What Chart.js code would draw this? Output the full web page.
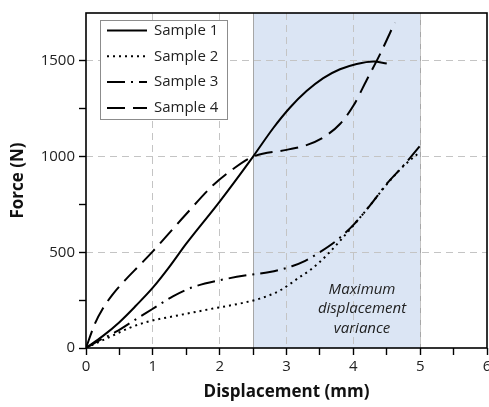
<!DOCTYPE html>
<html>
<head>
<meta charset="utf-8">
<script src="https://cdn.jsdelivr.net/npm/chart.js@4"></script>
<style>
	html, body { margin: 0; padding: 0; background: #fff; overflow: hidden; }
	#wrap { position: relative; width: 500px; height: 407px; }
</style>
</head>
<body>
<div id="wrap"><canvas id="chart"></canvas></div>
<script>
// values (displacement in mm, force in N)
const seriesNames = ['Sample 1', 'Sample 2', 'Sample 3', 'Sample 4'];

const s1x = [0, 0.25, 0.5, 0.75, 1, 1.25, 1.5, 2, 2.5, 2.8, 3.05, 3.3, 3.55, 3.8, 4.05, 4.3, 4.5];
const s1y = [0, 62, 135, 222, 315, 425, 545, 765, 1000, 1148, 1255, 1342, 1410, 1456, 1484, 1497, 1486];

const s2x = [0, 0.4, 0.65, 0.9, 1.4, 1.9, 2.3, 2.6, 2.9, 3.2, 3.35, 3.6, 4, 4.25, 4.5, 4.75, 5];
const s2y = [0, 65, 105, 135, 172, 206, 232, 258, 300, 371, 406, 484, 640, 745, 855, 950, 1025];

const s3x = [0, 0.2, 0.45, 0.7, 1, 1.3, 1.6, 2, 2.4, 2.75, 3.08, 3.28, 3.45, 3.75, 4.02, 4.25, 4.5, 4.75, 5];
const s3y = [0, 40, 85, 140, 205, 270, 318, 354, 380, 397, 427, 455, 490, 562, 650, 745, 858, 953, 1057];

const s4x = [0, 0.13, 0.25, 0.4, 0.6, 0.8, 1, 1.5, 1.9, 2.2, 2.5, 3, 3.3, 3.55, 3.8, 4, 4.2, 4.4, 4.62];
const s4y = [0, 125, 205, 280, 360, 432, 505, 700, 850, 935, 1000, 1035, 1060, 1100, 1170, 1265, 1400, 1535, 1700];

const xTicks = [0, 1, 2, 3, 4, 5, 6];
const yTicks = [0, 500, 1000, 1500];

const regionStart = 2.5;
const regionEnd = 5;
const regionText = ['Maximum', 'displacement', 'variance'];

const dashes = [[], [2, 4], [18, 6, 2, 6], [18, 8]];

function toPoints(xs, ys) {
	return xs.map((x, i) => ({x: x, y: ys[i]}));
}

const font = '"Open Sans", sans-serif';

const shadePlugin = {
	id: 'shade',
	beforeDraw(chart) {
		const {ctx, chartArea, scales} = chart;
		const x1 = scales.x.getPixelForValue(regionStart);
		const x2 = scales.x.getPixelForValue(regionEnd);
		ctx.save();
		ctx.fillStyle = '#dbe5f4';
		ctx.fillRect(x1, chartArea.top, x2 - x1, chartArea.bottom - chartArea.top);
		ctx.strokeStyle = '#a6a6a6';
		ctx.lineWidth = 1;
		ctx.beginPath();
		ctx.moveTo(Math.round(x1) + 0.5, chartArea.top);
		ctx.lineTo(Math.round(x1) + 0.5, chartArea.bottom);
		ctx.moveTo(Math.round(x2) + 0.5, chartArea.top);
		ctx.lineTo(Math.round(x2) + 0.5, chartArea.bottom);
		ctx.stroke();
		ctx.restore();
	},
	beforeDatasetsDraw(chart) {
		const {ctx, scales} = chart;
		ctx.save();
		ctx.fillStyle = '#222';
		ctx.font = 'italic 15px ' + font;
		ctx.textAlign = 'center';
		ctx.textBaseline = 'middle';
		const cx = scales.x.getPixelForValue(4.13);
		const cy = scales.y.getPixelForValue(205);
		regionText.forEach((line, i) => {
			ctx.fillText(line, cx, cy + (i - 1) * 19.5);
		});
		ctx.restore();
	},
	afterDatasetsDraw(chart) {
		const {ctx, chartArea} = chart;
		// legend box
		const bx = chartArea.left + 14;
		const by = chartArea.top + 7;
		ctx.save();
		ctx.fillStyle = '#fff';
		ctx.fillRect(bx, by, 127, 99);
		ctx.strokeStyle = '#8c8c8c';
		ctx.lineWidth = 1;
		ctx.strokeRect(Math.round(bx) + 0.5, Math.round(by) + 0.5, 127, 99);
		ctx.font = '15px ' + font;
		ctx.textBaseline = 'middle';
		ctx.fillStyle = '#222';
		chart.data.datasets.forEach((ds, i) => {
			const ly = by + 10.5 + i * 25.8;
			ctx.strokeStyle = '#000';
			ctx.lineWidth = 2;
			ctx.setLineDash(ds.borderDash);
			ctx.beginPath();
			ctx.moveTo(bx + 7, ly);
			ctx.lineTo(bx + 47, ly);
			ctx.stroke();
			ctx.setLineDash([]);
			ctx.fillText(ds.label, bx + 54, ly);
		});
		ctx.restore();
	},
	afterDraw(chart) {
		const {ctx, chartArea} = chart;
		ctx.save();
		ctx.strokeStyle = '#000';
		ctx.lineWidth = 1.6;
		ctx.strokeRect(chartArea.left, chartArea.top, chartArea.right - chartArea.left, chartArea.bottom - chartArea.top);
		ctx.restore();
	}
};

const allX = [s1x, s2x, s3x, s4x];
const allY = [s1y, s2y, s3y, s4y];

const datasets = seriesNames.map((name, i) => ({
	label: name,
	data: toPoints(allX[i], allY[i]),
	borderColor: '#000',
	backgroundColor: '#000',
	borderWidth: 2,
	borderDash: dashes[i],
	pointRadius: 0,
	cubicInterpolationMode: 'monotone',
	fill: false
}));

new Chart(document.getElementById('chart'), {
	type: 'line',
	data: { datasets: datasets },
	plugins: [shadePlugin],
	options: {
		responsive: true,
		maintainAspectRatio: false,
		animation: { duration: 0 },
		layout: { padding: { top: 12, right: 13, left: 0, bottom: 0 } },
		plugins: {
			legend: { display: false },
			tooltip: { enabled: false }
		},
		scales: {
			x: {
				type: 'linear',
				min: 0,
				max: 6,
				afterFit(scale) { scale.height = 59; },
				ticks: {
					stepSize: 0.5,
					autoSkip: false,
					maxRotation: 0,
					padding: 3,
					color: '#222',
					font: { family: font, size: 15 },
					callback: function(value) {
						return xTicks.includes(value) ? String(value) : '';
					}
				},
				grid: {
					color: function(ctx) {
						const v = ctx.tick ? ctx.tick.value : null;
						return (v >= 1 && v <= 5 && Number.isInteger(v)) ? '#c4c4c4' : 'rgba(0,0,0,0)';
					},
					lineWidth: 1,
					tickLength: 7,
					tickWidth: 1.4,
					tickColor: '#000'
				},
				border: { display: false, dash: [7, 5] },
				title: {
					display: true,
					text: 'Displacement (mm)',
					color: '#111',
					font: { family: font, size: 17, weight: 'bold' },
					padding: { bottom: 5, top: 0 }
				}
			},
			y: {
				type: 'linear',
				min: 0,
				max: 1750,
				afterFit(scale) { scale.width = 86; },
				ticks: {
					stepSize: 250,
					autoSkip: false,
					padding: 4,
					color: '#222',
					font: { family: font, size: 15 },
					callback: function(value) {
						return yTicks.includes(value) ? String(value) : '';
					}
				},
				grid: {
					color: function(ctx) {
						const v = ctx.tick ? ctx.tick.value : null;
						return (v === 500 || v === 1000 || v === 1500) ? '#c4c4c4' : 'rgba(0,0,0,0)';
					},
					lineWidth: 1,
					tickLength: 7,
					tickWidth: 1.4,
					tickColor: function(ctx) {
						return ctx.tick && ctx.tick.value === 1750 ? 'rgba(0,0,0,0)' : '#000';
					}
				},
				border: { display: false, dash: [7, 5] },
				title: {
					display: true,
					text: 'Force (N)',
					color: '#111',
					font: { family: font, size: 17, weight: 'bold' },
					padding: { top: 8, bottom: 0 }
				}
			}
		}
	}
});
</script>
</body>
</html>
